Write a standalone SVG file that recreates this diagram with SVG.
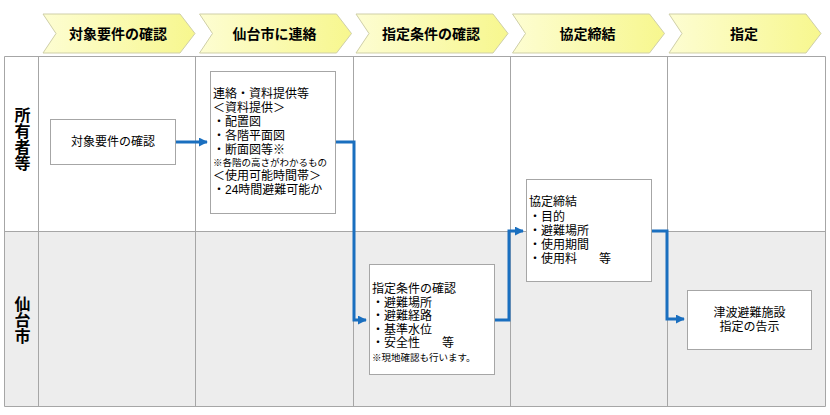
<svg xmlns="http://www.w3.org/2000/svg" width="830" height="415" viewBox="0 0 830 415">
<defs>
<linearGradient id="yg" x1="0" y1="0" x2="1" y2="0">
<stop offset="0" stop-color="#fdfdd2"/>
<stop offset="1" stop-color="#f7f78e"/>
</linearGradient>
<marker id="ah" viewBox="0 0 10 10" refX="9" refY="5" markerWidth="3" markerHeight="3" orient="auto" markerUnits="strokeWidth">
<path d="M0,0 L10,5 L0,10 Z" fill="#1a6fbf"/>
</marker>
<style>
text{font-family:"Liberation Sans","Noto Sans CJK JP","Noto Sans CJK SC",sans-serif;fill:#000}
.hd{font-size:14px;font-weight:bold;text-anchor:middle}
.lb{font-size:16px;font-weight:bold;writing-mode:vertical-rl;text-orientation:upright}
.t{font-size:12px}
.s{font-size:9.5px}
.c{text-anchor:middle}
.chev{fill:url(#yg);stroke:#cfcfa8;stroke-width:1}
.grid{stroke:#a6a6a6;stroke-width:1;fill:none}
.box{fill:#fff;stroke:#a6a6a6;stroke-width:1}
.con{stroke:#1a6fbf;stroke-width:3;fill:none;marker-end:url(#ah)}
</style>
</defs>
<rect x="0" y="0" width="830" height="415" fill="#fff"/>
<g id="headers">
<polygon class="chev" points="43,14 180,14 195,33.5 180,53 43,53 56,33.5"/>
<text class="hd" x="118" y="38.5">対象要件の確認</text>
<polygon class="chev" points="199.5,14 336.5,14 351.5,33.5 336.5,53 199.5,53 212.5,33.5"/>
<text class="hd" x="274.5" y="38.5">仙台市に連絡</text>
<polygon class="chev" points="356,14 493,14 508,33.5 493,53 356,53 369,33.5"/>
<text class="hd" x="431" y="38.5">指定条件の確認</text>
<polygon class="chev" points="512.5,14 649.5,14 664.5,33.5 649.5,53 512.5,53 525.5,33.5"/>
<text class="hd" x="587.5" y="38.5">協定締結</text>
<polygon class="chev" points="669,14 806,14 821,33.5 806,53 669,53 682,33.5"/>
<text class="hd" x="744" y="38.5">指定</text>
</g>
<g id="lanes">
<rect x="4.5" y="56.5" width="821" height="175" fill="#fff"/>
<rect x="4.5" y="231.5" width="821" height="175" fill="#ededed"/>
<path class="grid" d="M4.5,56.5 H825.5 V406.5 H4.5 Z M4.5,231.5 H825.5 M38.5,56.5 V406.5 M195.5,56.5 V406.5 M353.5,56.5 V406.5 M510.5,56.5 V406.5 M667.5,56.5 V406.5"/>
<text class="lb" x="21" y="107">所有者等</text>
<text class="lb" x="21" y="296">仙台市</text>
</g>
<g id="connectors">
<path class="con" d="M175,142 H207"/>
<path class="con" d="M335,142 H354 V320 H366"/>
<path class="con" d="M494,320 H509 V231 H523"/>
<path class="con" d="M651,231 H667 V319 H684"/>
</g>
<g id="n1">
<rect class="box" x="50.5" y="119.5" width="125" height="45"/>
<text class="t c" x="113" y="146">対象要件の確認</text>
</g>
<g id="n2">
<rect class="box" x="210.5" y="71.5" width="125" height="142"/>
<text class="t" x="213" y="98">連絡・資料提供等<tspan x="213" dy="14">＜資料提供＞</tspan><tspan x="213" dy="14">・配置図</tspan><tspan x="213" dy="14">・各階平面図</tspan><tspan x="213" dy="14">・断面図等※</tspan><tspan class="s" x="213" dy="12">※各階の高さがわかるもの</tspan><tspan x="213" dy="14">＜使用可能時間帯＞</tspan><tspan x="213" dy="14">・24時間避難可能か</tspan></text>
</g>
<g id="n3">
<rect class="box" x="369.5" y="264.5" width="125" height="110"/>
<text class="t" x="372" y="293">指定条件の確認<tspan x="372" dy="13.6">・避難場所</tspan><tspan x="372" dy="13.6">・避難経路</tspan><tspan x="372" dy="13.6">・基準水位</tspan><tspan x="372" dy="13.6">・安全性</tspan><tspan x="442">等</tspan><tspan class="s" x="372" dy="14">※現地確認も行います。</tspan></text>
</g>
<g id="n4">
<rect class="box" x="526.5" y="179.5" width="125" height="102"/>
<text class="t" x="529" y="206">協定締結<tspan x="529" dy="14.5">・目的</tspan><tspan x="529" dy="14">・避難場所</tspan><tspan x="529" dy="14">・使用期間</tspan><tspan x="529" dy="14">・使用料</tspan><tspan x="599">等</tspan></text>
</g>
<g id="n5">
<rect class="box" x="687.5" y="290.5" width="124" height="59"/>
<text class="t c" x="749.5" y="317">津波避難施設<tspan x="749.5" dy="14">指定の告示</tspan></text>
</g>
</svg>
